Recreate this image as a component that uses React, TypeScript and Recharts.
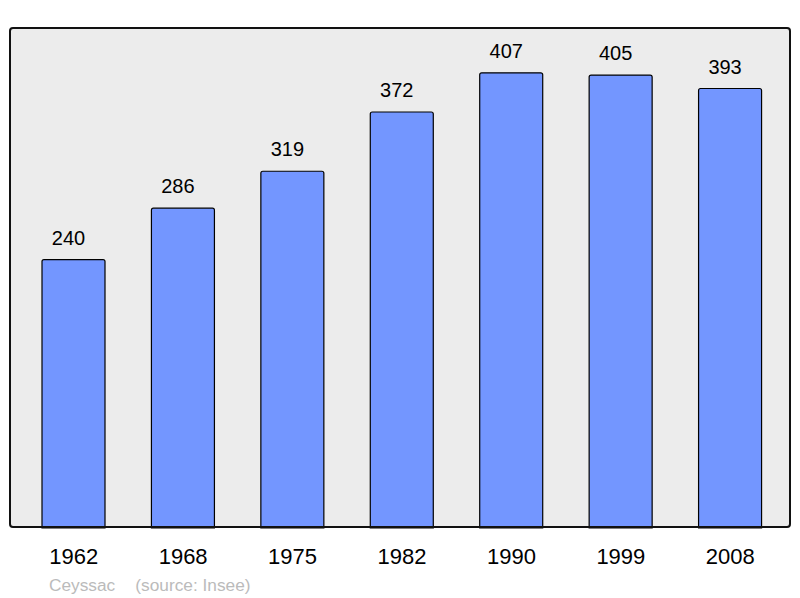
import { BarChart, Bar, XAxis, YAxis, LabelList } from 'recharts';

const years = ['1962', '1968', '1975', '1982', '1990', '1999', '2008'];
const population = [240, 286, 319, 372, 407, 405, 393];
const yDomain = [0, 448];
const town = 'Ceyssac';
const source = '(source: Insee)';

const data = years.map((year, i) => ({ year, population: population[i] }));

const font = '"Liberation Sans", Arial, sans-serif';

export default function App() {
  return (
    <div style={{ position: 'relative', width: 792, height: 590, fontFamily: font }}>
      {/* plot background */}
      <div
        style={{
          position: 'absolute',
          left: 1,
          top: 19,
          width: 782,
          height: 501,
          background: '#ececec',
          borderRadius: 3,
        }}
      />
      <div style={{ position: 'absolute', left: 0, top: 0 }}>
        <BarChart
          width={792}
          height={590}
          data={data}
          margin={{ top: 19, right: 9, left: 1, bottom: 0 }}
          barSize={63}
        >
          <XAxis
            dataKey="year"
            height={70}
            axisLine={false}
            tickLine={false}
            tickSize={0}
            tickMargin={20}
            padding={{ left: 10, right: 6 }}
            interval={0}
            tick={{ fill: '#000', fontSize: 22, fontFamily: font }}
          />
          <YAxis hide domain={yDomain} />
          <Bar
            dataKey="population"
            fill="#7396ff"
            stroke="#000"
            strokeWidth={1.2}
            radius={[2, 2, 0, 0]}
            isAnimationActive={false}
          >
            <LabelList
              dataKey="population"
              position="top"
              offset={15}
              dx={-5}
              fill="#000"
              fontSize={20}
              fontFamily={font}
            />
          </Bar>
        </BarChart>
      </div>
      {/* plot frame */}
      <div
        style={{
          position: 'absolute',
          left: 1,
          top: 19,
          width: 782,
          height: 501,
          boxSizing: 'border-box',
          border: '2px solid #111',
          borderRadius: 4,
          pointerEvents: 'none',
        }}
      />
      <div
        style={{
          position: 'absolute',
          left: 41,
          top: 567,
          fontSize: 17.3,
          color: '#bbbbbb',
          whiteSpace: 'nowrap',
        }}
      >
        {town}
        <span style={{ marginLeft: 20 }}>{source}</span>
      </div>
    </div>
  );
}
